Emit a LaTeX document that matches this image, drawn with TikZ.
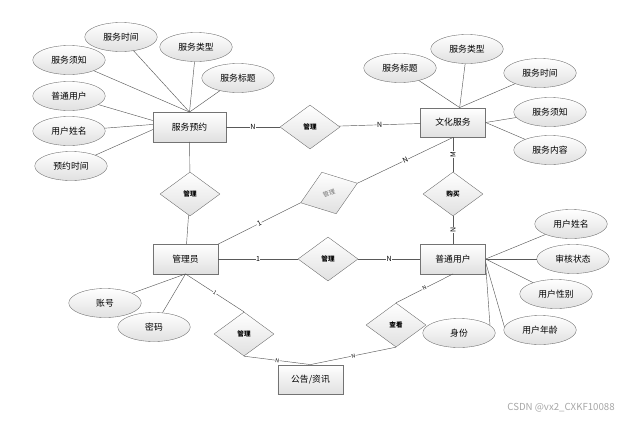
\documentclass[tikz,border=0pt]{standalone}
\usepackage{fontspec}
\setmainfont{Noto Sans CJK SC}
\usetikzlibrary{shapes.geometric,shadows}

\begin{document}
\begin{tikzpicture}[x=0.04cm, y=-0.04cm,
    entity/.style={draw=black!55, top color=white, bottom color=black!12,
        minimum width=2.6cm, minimum height=1.18cm, inner sep=0pt,
        font=\fontsize{10}{12}\selectfont,
        drop shadow={shadow xshift=0.7pt, shadow yshift=-0.7pt, fill=black!30}},
    attr/.style={ellipse, draw=black!60, top color=white, bottom color=black!12,
        minimum width=2.9cm, minimum height=1.16cm, inner sep=0pt,
        font=\fontsize{10}{12}\selectfont},
    rel/.style={diamond, draw=black!60, top color=white, bottom color=black!12,
        minimum width=2.4cm, minimum height=1.76cm, inner sep=0pt,
        font=\fontsize{7.5}{8}\selectfont\bfseries},
    link/.style={draw=black!65, line width=0.5pt},
    lbl/.style={fill=white, inner sep=0.6pt, sloped, font=\fontsize{8}{8}\selectfont}]
    \useasboundingbox (0,0) rectangle (632,420);
    % entities
    \node[entity, minimum width=2.92cm] (svc) at (189.5,127) {服务预约};
    \node[entity] (cul) at (453,122.5) {文化服务};
    \node[entity] (adm) at (185.5,259) {管理员};
    \node[entity] (usr) at (453,259) {普通用户};
    \node[entity] (ann) at (310.5,379.5) {公告/资讯};
    % relationships
    \node[rel] (r1) at (310,127) {管理};
    \node[rel] (r2) at (190,194) {管理};
    \node[rel, rotate=19, text=black!55, font=\fontsize{7}{8}\selectfont] (r3) at (329,193) {管理};
    \node[rel] (r4) at (453,194) {购买};
    \node[rel] (r5) at (328,259) {管理};
    \node[rel] (r6) at (244,334) {管理};
    \node[rel] (r7) at (396,325) {查看};
    % attributes of 服务预约
    \node[attr] (s1) at (69,60) {服务须知};
    \node[attr] (s2) at (121,37) {服务时间};
    \node[attr] (s3) at (196,47) {服务类型};
    \node[attr] (s4) at (238,78) {服务标题};
    \node[attr] (s5) at (69,96) {普通用户};
    \node[attr] (s6) at (69,131) {用户姓名};
    \node[attr] (s7) at (71,166) {预约时间};
    % attributes of 文化服务
    \node[attr] (c1) at (400,68) {服务标题};
    \node[attr] (c2) at (467,49) {服务类型};
    \node[attr] (c3) at (540,73) {服务时间};
    \node[attr] (c4) at (550,112) {服务须知};
    \node[attr] (c5) at (550,150) {服务内容};
    % attributes of 管理员
    \node[attr] (a1) at (105,303) {账号};
    \node[attr] (a2) at (154,327) {密码};
    % attributes of 普通用户
    \node[attr] (u1) at (571,224) {用户姓名};
    \node[attr] (u2) at (573,259) {审核状态};
    \node[attr] (u3) at (556,294) {用户性别};
    \node[attr] (u4) at (540,330) {用户年龄};
    \node[attr] (u5) at (459,333) {身份};
    % attribute links
    \foreach \a in {s1,s2,s3,s4} \draw[link] (\a) -- (svc.north);
    \draw[link] (s5) -- (svc.170);
    \draw[link] (s6) -- (svc.176);
    \draw[link] (s7) -- (svc.184);
    \foreach \a in {c1,c2,c3} \draw[link] (\a) -- (cul.66);
    \foreach \a in {c4,c5} \draw[link] (\a) -- (cul.east);
    \foreach \a in {a1,a2} \draw[link] (\a) -- (adm.south);
    \foreach \a in {u1,u2,u3} \draw[link] (\a) -- (usr.east);
    \draw[link] (u4.175) -- (usr.354);
    \draw[link] (u5.14) -- (usr.350);
    % relationship links
    \draw[link] (svc) -- node[lbl]{N} (r1);
    \draw[link] (r1) -- node[lbl]{N} (cul);
    \draw[link] (svc) -- (r2) -- (adm);
    \draw[link] (adm.north east) -- node[lbl]{1} (r3.west);
    \draw[link] (r3.east) -- node[lbl]{N} (cul.south);
    \draw[link] (r4) -- node[lbl]{M} (cul);
    \draw[link] (usr) -- node[lbl]{N} (r4);
    \draw[link] (adm) -- node[lbl]{1} (r5);
    \draw[link] (r5) -- node[lbl]{N} (usr);
    \draw[link] (adm.south) -- node[lbl, font=\fontsize{6}{6}\selectfont]{1} (r6.north);
    \draw[link] (r6.south) -- node[lbl, font=\fontsize{6}{6}\selectfont]{N} (ann.north);
    \draw[link] (ann.north) -- node[lbl, font=\fontsize{6}{6}\selectfont]{N} (r7.south);
    \draw[link] (r7.north) -- node[lbl, font=\fontsize{6}{6}\selectfont]{N} (usr.south);
    % watermark
    \node[text=black!35, font=\fontsize{11}{12}\selectfont] (wm) at (561,408) {CSDN @vx2\_CXKF10088};
\end{tikzpicture}
\end{document}
